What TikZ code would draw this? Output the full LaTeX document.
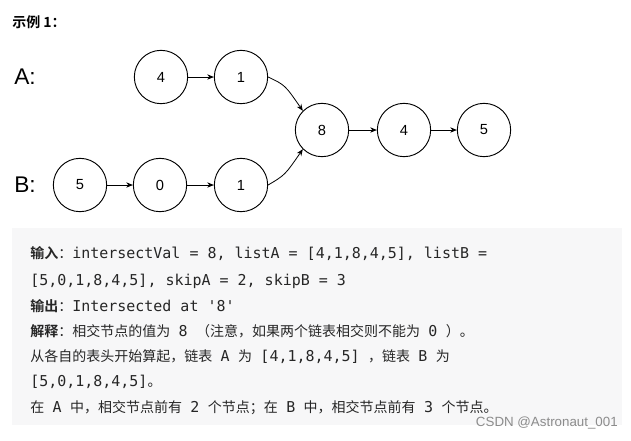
\documentclass[tikz,border=0pt]{standalone}
\usepackage{fontspec}
\setmainfont{Liberation Sans}
\newfontfamily\cjk{Noto Sans CJK SC}
\newfontfamily\cjkb{Noto Sans CJK SC Bold}
\newfontfamily\mono[Scale=1.07]{DejaVu Sans Mono}
\usetikzlibrary{arrows.meta}
\definecolor{boxbg}{HTML}{F7F7F8}
\newcommand{\m}[1]{\hspace{0.6em}{\mono #1}\hspace{0.6em}}
\begin{document}
\begin{tikzpicture}[x=0.75pt,y=-0.75pt,
  nd/.style={circle,draw=black,line width=0.7pt,minimum size=40pt,inner sep=0pt,font=\fontsize{11}{13}\selectfont},
  ar/.style={-{Stealth[length=5pt,width=4pt]},line width=0.6pt},
  tl/.style={anchor=west,inner sep=0pt,font=\fontsize{10.5}{12}\selectfont,text=black!85}]
\useasboundingbox (0,0) rectangle (631,440);
\node[anchor=west,inner sep=0pt,font=\cjkb\fontsize{10.5}{12}\selectfont] (t) at (12,22) {示例 1：};
\node[anchor=west,inner sep=0pt,font=\fontsize{17}{20}\selectfont] (la) at (14,77) {A:};
\node[anchor=west,inner sep=0pt,font=\fontsize{17}{20}\selectfont] (lb) at (14,185) {B:};
\node[nd] (a1) at (161,77) {4};
\node[nd] (a2) at (241,77) {1};
\node[nd] (c1) at (322,130) {8};
\node[nd] (c2) at (404,130) {4};
\node[nd] (c3) at (484,130) {5};
\node[nd] (b1) at (80,185) {5};
\node[nd] (b2) at (160,185) {0};
\node[nd] (b3) at (241,185) {1};
\draw[ar] (a1) -- (a2);
\draw[ar] (b1) -- (b2);
\draw[ar] (b2) -- (b3);
\draw[ar] (c1) -- (c2);
\draw[ar] (c2) -- (c3);
\draw[ar] (a2.east) .. controls (285,85) .. (c1.north west);
\draw[ar] (b3.east) .. controls (285,175) .. (c1.south west);
\fill[boxbg] (12,228) rectangle (622,425);
\node[tl] (l1) at (30,254) {{\cjkb 输入}{\cjk ：}{\mono intersectVal = 8, listA = [4,1,8,4,5], listB =}};
\node[tl] (l2) at (30,281) {\mono [5,0,1,8,4,5], skipA = 2, skipB = 3};
\node[tl] (l3) at (30,306) {{\cjkb 输出}{\cjk ：}{\mono Intersected at '8'}};
\node[tl] (l4) at (30,331) {{\cjkb 解释}{\cjk ：相交节点的值为\m{8}（注意，如果两个链表相交则不能为\m{0}）。}};
\node[tl] (l5) at (30,357) {\cjk 从各自的表头开始算起，链表\m{A}为\m{[4,1,8,4,5]}，链表\m{B}为};
\node[tl] (l6) at (30,382) {{\mono [5,0,1,8,4,5]}\cjk 。};
\node[tl] (l7) at (30,408) {\cjk 在\m{A}中，相交节点前有\m{2}个节点；在\m{B}中，相交节点前有\m{3}个节点。};
\node[anchor=east,inner sep=0pt,font=\fontsize{10}{12}\selectfont,text=black!45] (wm) at (618,423) {CSDN @Astronaut\_001};
\end{tikzpicture}
\end{document}
